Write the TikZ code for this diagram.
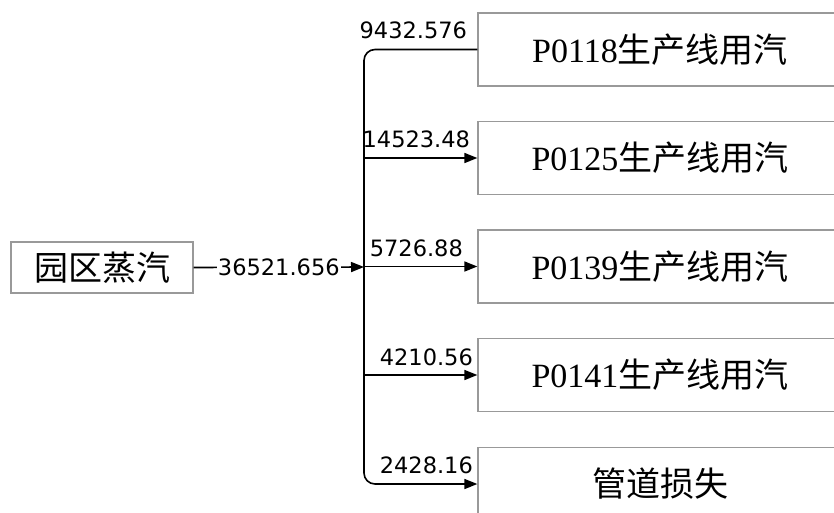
\documentclass[tikz,border=0pt]{standalone}
\usepackage{fontspec}
\setmainfont{Liberation Serif}
\newfontfamily\cjk{Noto Sans CJK SC}
\newfontfamily\lblfont{DejaVu Sans}
\usetikzlibrary{arrows.meta}
\begin{document}
\begin{tikzpicture}[x=1pt,y=-1pt,
  box/.style={draw=black!40,line width=1.3pt,minimum height=73pt,inner sep=0pt,font=\fontsize{34}{34}\selectfont},
  wire/.style={line width=1.6pt,black},
  arr/.style={wire,-{Triangle[length=13pt,width=10pt]}},
  lbl/.style={font=\lblfont\fontsize{22.5}{22.5}\selectfont,anchor=base,inner sep=0pt}]
\useasboundingbox (0,0) rectangle (834,512);
\node[box,minimum width=182pt,minimum height=51pt] (src) at (102,267.5) {\cjk 园区蒸汽};
\node[box,minimum width=364pt] (b1) at (660,49.5) {P0118{\cjk 生产线用汽}};
\node[box,minimum width=364pt] (b2) at (660,158) {P0125{\cjk 生产线用汽}};
\node[box,minimum width=364pt] (b3) at (660,266.5) {P0139{\cjk 生产线用汽}};
\node[box,minimum width=364pt] (b4) at (660,375) {P0141{\cjk 生产线用汽}};
\node[box,minimum width=364pt] (b5) at (660,484) {\cjk 管道损失};
\coordinate (j) at (364,267);
\draw[arr,rounded corners=11pt] (b1.west) -| (j) |- (b5.west);
\draw[arr] (j |- b2.west) -- (b2.west);
\draw[arr] (j |- b3.west) -- (b3.west);
\draw[arr] (j |- b4.west) -- (b4.west);
\draw[arr] (src.east) -- node[fill=white,inner sep=1pt,font=\lblfont\fontsize{22.5}{22.5}\selectfont]{36521.656} (j);
\node[lbl] (l1) at ([xshift=-64pt,yshift=11pt]b1.west) {9432.576};
\node[lbl] (l2) at ([xshift=-61pt,yshift=11pt]b2.west) {14523.48};
\node[lbl] (l3) at ([xshift=-61pt,yshift=10pt]b3.west) {5726.88};
\node[lbl] (l4) at ([xshift=-51pt,yshift=10pt]b4.west) {4210.56};
\node[lbl] (l5) at ([xshift=-51pt,yshift=11pt]b5.west) {2428.16};
\end{tikzpicture}
\end{document}
